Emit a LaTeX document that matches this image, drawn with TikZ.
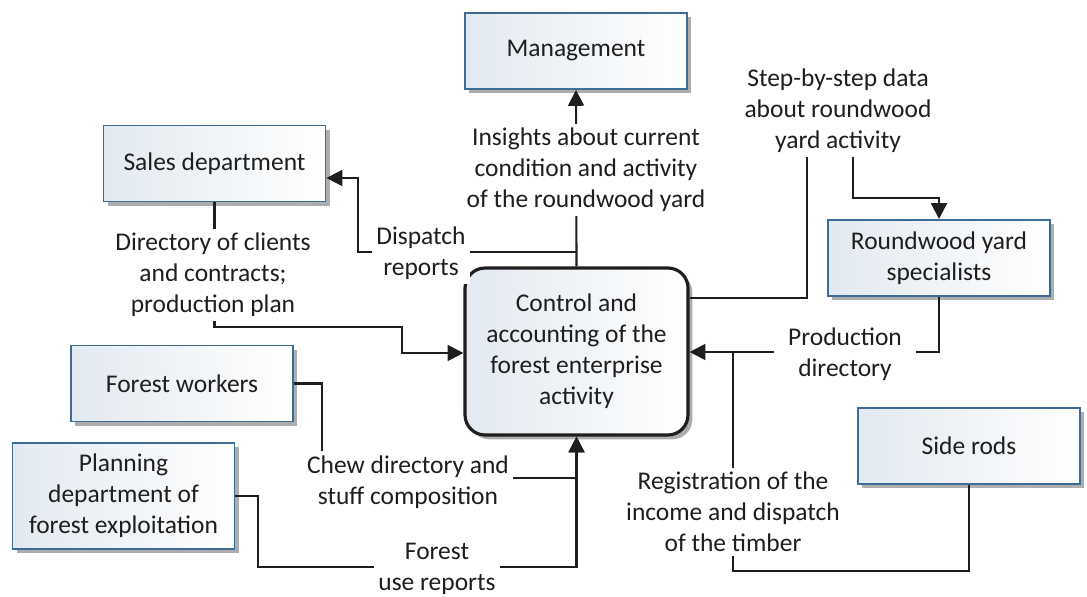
\documentclass[tikz,border=0pt]{standalone}
\usepackage{fontspec}
\setmainfont{Carlito}
\usetikzlibrary{arrows.meta,positioning,shadows}

\definecolor{boxblue}{RGB}{62,108,150}
\definecolor{boxshade}{RGB}{226,233,240}
\definecolor{inkline}{RGB}{30,30,30}

\tikzset{
  txt/.style={font=\fontsize{14.5}{17.6}\selectfont, text=inkline, align=center},
  unit/.style={txt, draw=boxblue, line width=1.1pt, left color=boxshade, right color=white,
    minimum width=4.44cm, minimum height=1.52cm, inner sep=2pt,
    drop shadow={shadow xshift=2.5pt, shadow yshift=-2.5pt, opacity=0.4, fill=black!80}},
  core/.style={txt, draw=inkline, line width=1.8pt, rounded corners=0.4cm, left color=boxshade, right color=white,
    minimum width=4.46cm, minimum height=3.34cm, inner sep=2pt,
    drop shadow={shadow xshift=2.5pt, shadow yshift=-2.5pt, opacity=0.4, fill=black!80}},
  link/.style={draw=inkline, line width=1.2pt},
  flow/.style={link, -{Triangle[length=9pt,width=9pt]}},
  note/.style={txt, fill=white, inner sep=2.5pt}
}

\begin{document}
\begin{tikzpicture}[x=0.02cm, y=-0.02cm]
\useasboundingbox (0,0) rectangle (1087,597);

% boxes
\node (central) [core] at (576.5,351.5) {Control and\\accounting of the\\forest enterprise\\activity};
\node (management) [unit] at (576,51) {Management};
\node (sales) [unit] at (214.5,163.5) {Sales department};
\node (specialists) [unit] at (939,258) {Roundwood yard\\specialists};
\node (workers) [unit] at (182,383.5) {Forest workers};
\node (siderods) [unit] at (969,446) {Side rods};
\node (planning) [unit, minimum height=2.12cm] at (123.5,496) {Planning\\department of\\forest exploitation};

% connectors
\draw [flow] (central.north) -- (management.south);
\draw [flow] (central.north |- 0,252) -- (358,252) |- (sales.east |- 0,178);
\draw [flow] (sales.south) |- (402,327) |- (central.west |- 0,353);
\draw [flow] (workers.east) -| (322,478) -| (central.south);
\draw [flow] (planning.east) -| (258,567) -| (central.south);
\draw [link] (central.east |- 0,298) -| (807,111);
\draw [flow] (853,111) |- (939,198) -- (specialists.north);
\draw [flow] (specialists.south) |- (central.east |- 0,352);
\draw [link] (siderods.south) |- (733,571) -- (733,352);

% labels
\node (insights) [note] at (586,170) {Insights about current\\condition and activity\\of the roundwood yard};
\node (dispatch) [note] at (421,253) {Dispatch\\reports};
\node (clients) [note] at (213,275) {Directory of clients\\and contracts;\\production plan};
\node (stepdata) [note] at (838,111) {Step-by-step data\\about roundwood\\yard activity};
\node (proddir) [note, inner xsep=8pt] at (845,354) {Production\\directory};
\node (registration) [note] at (733,512) {Registration of the\\income and dispatch\\of the timber};
\node (chew) [note] at (408,482) {Chew directory and\\stuff composition};
\node (forestuse) [note] at (437,569) {Forest\\use reports};
\end{tikzpicture}
\end{document}
